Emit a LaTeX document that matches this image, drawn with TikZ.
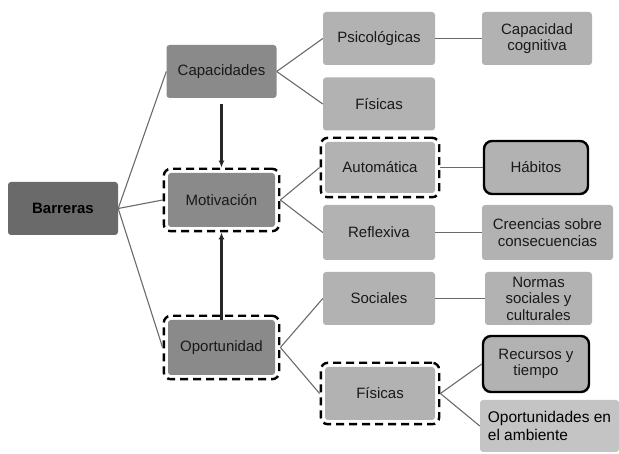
\documentclass[tikz,border=0pt]{standalone}
\usepackage{fontspec}
\setmainfont{Liberation Sans}
\usetikzlibrary{calc,arrows.meta,positioning,fit}
\definecolor{grisOsc}{HTML}{6A6A6A}
\definecolor{grisMed}{HTML}{8A8A8A}
\definecolor{grisCla}{HTML}{B2B2B2}
\definecolor{grisAmb}{HTML}{C4C4C4}
\definecolor{grisLin}{HTML}{6A6A6A}

\begin{document}
\begin{tikzpicture}[x=1pt,y=-1pt,
  caja/.style={rounded corners=3pt,fill=grisCla,text=black!90,inner sep=0pt,align=center,
    minimum width=112pt,minimum height=53pt,font=\fontsize{15}{16.5}\selectfont},
  medio/.style={caja,fill=grisMed,minimum width=107pt},
  marco/.style={draw=black,line width=2.4pt,dash pattern=on 8pt off 5pt,rounded corners=7pt,inner sep=4pt},
  grueso/.style={caja,draw=black,line width=2.4pt,rounded corners=8pt},
  rama/.style={draw=grisLin,line width=1.1pt},
  flecha/.style={draw=black!85,line width=2.2pt,-{Latex[length=7pt,width=6pt]}}
]
\useasboundingbox (0,0) rectangle (619,454);

%raíz
\node[caja,fill=grisOsc,minimum width=110pt,text=black,font=\fontsize{15}{16.5}\selectfont\bfseries] (nBarr) at (63,208.5) {Barreras};

%nivel 2
\node[medio,minimum width=110pt] (nCapa) at (221.5,71.5) {Capacidades};
\node[medio,minimum height=54pt] (nMoti) at (221.5,200) {Motivación};
\node[medio,minimum height=55pt] (nOpor) at (221.5,347.5) {Oportunidad};
\node[marco,fit=(nMoti)] (nMotiF) {};
\node[marco,fit=(nOpor)] (nOporF) {};

%nivel 3
\node[caja] (nPsic) at (379,38.5) {Psicológicas};
\node[caja] (nFis1) at (379,104) {Físicas};
\node[caja,minimum width=110pt,minimum height=51pt] (nAuto) at (380,167.5) {Automática};
\node[caja,minimum height=55pt] (nRefl) at (379,232.5) {Reflexiva};
\node[caja] (nSoci) at (379,298.5) {Sociales};
\node[caja,minimum width=110pt] (nFis2) at (380,393.5) {Físicas};
\node[marco,fit=(nAuto)] (nAutoF) {};
\node[marco,fit=(nFis2)] (nFis2F) {};

%nivel 4
\node[caja,minimum width=110pt] (nCogn) at (537,38.5) {Capacidad\\cognitiva};
\node[grueso,minimum width=104pt,minimum height=53pt] (nHabi) at (536,167.5) {Hábitos};
\node[caja,minimum width=131pt,minimum height=55pt] (nCree) at (547.5,232.5) {Creencias sobre\\consecuencias};
\node[caja,minimum width=107pt] (nNorm) at (538.5,298.5) {Normas\\sociales y\\culturales};
\node[grueso,minimum width=106pt,minimum height=56pt] (nRecu) at (536,364) {Recursos y\\tiempo};
\node[caja,fill=grisAmb,minimum width=139pt,minimum height=52pt,align=left,text=black,
  font=\fontsize{15.5}{18}\selectfont] (nAmb) at (549.5,426) {Oportunidades en\\el ambiente};

%ramas
\foreach \a/\b in {nBarr/nCapa,nBarr/nMotiF,nBarr/nOporF,nCapa/nPsic,nCapa/nFis1,
  nMotiF/nAutoF,nMotiF/nRefl,nOporF/nSoci,nOporF/nFis2F,nPsic/nCogn,nAutoF/nHabi,
  nRefl/nCree,nSoci/nNorm,nFis2F/nRecu,nFis2F/nAmb}
{
    \draw[rama] (\a.east) -- (\b.west);
};

%flechas
\draw[flecha,shorten <=6pt] (nCapa.south) -- (nMotiF.north);
\draw[flecha] (nOpor.north) -- (nMotiF.south);
\end{tikzpicture}
\end{document}
